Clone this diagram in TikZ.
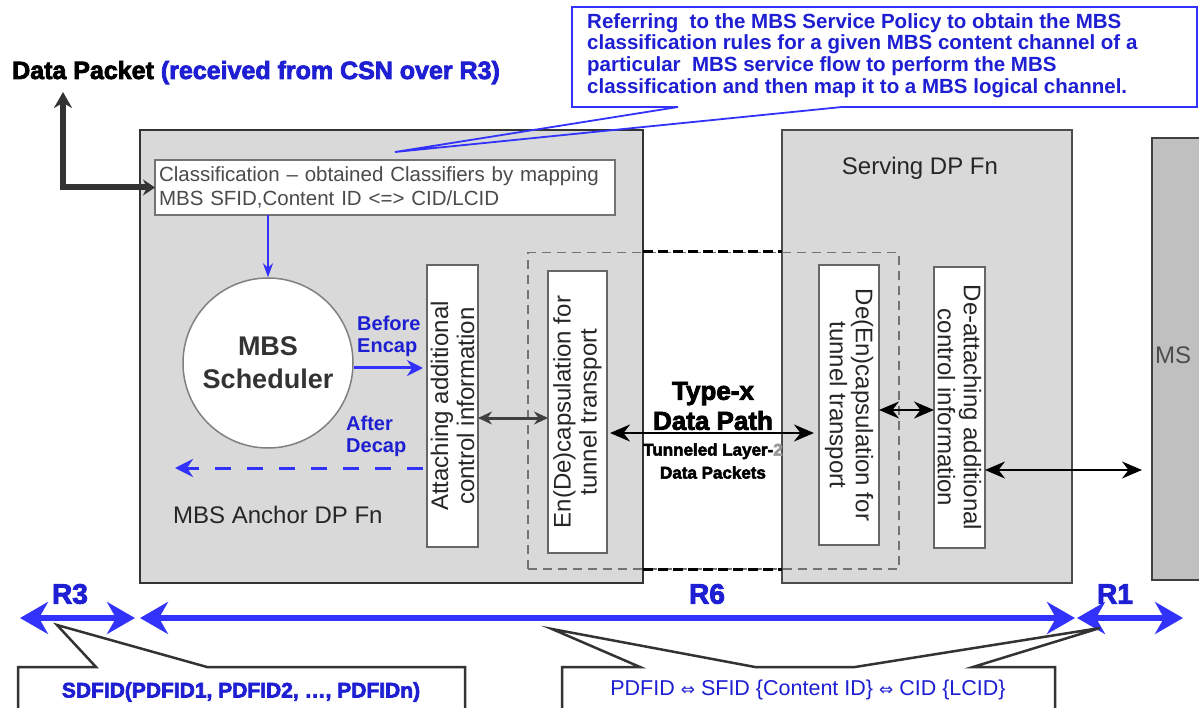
\documentclass[tikz,border=0pt]{standalone}
\usepackage{fontspec}
\setmainfont{Liberation Sans}
\newfontface\heavy{Liberation Sans Bold}[FakeBold=3]
\newfontface\dvs{DejaVu Sans}
\usetikzlibrary{arrows.meta}
\definecolor{rblue}{RGB}{50,50,250}
\definecolor{tblue}{RGB}{30,30,210}
\definecolor{boxgray}{RGB}{217,217,217}
\definecolor{msgray}{RGB}{192,192,192}
\definecolor{txtgray}{RGB}{75,75,75}
\tikzset{
  fnbox/.style={draw=black!80, line width=2.2pt, fill=boxgray, inner sep=0pt, outer sep=0pt, anchor=north west},
  inbox/.style={draw=black!60, line width=1.3pt, fill=white, inner sep=0pt, outer sep=0pt},
  vbox/.style={inbox, font=\fontsize{24}{26}\selectfont, align=center, text=black!85},
  dbl/.style={line width=3pt, black!75, {Stealth[length=14pt,width=13pt]}-{Stealth[length=14pt,width=13pt]}},
  bigdbl/.style={line width=2pt, black, {Stealth[length=20pt,width=17pt]}-{Stealth[length=20pt,width=17pt]}},
  rarrow/.style={line width=6pt, rblue, {Stealth[length=28pt,width=32pt,inset=9pt]}-{Stealth[length=28pt,width=32pt,inset=9pt]}},
  rlabel/.style={font=\heavy\fontsize{28}{28}\selectfont, text=tblue, inner sep=0pt},
  callout/.style={draw=black!80, line width=2.5pt, fill=white, line join=miter},
  bluelbl/.style={font=\bfseries\fontsize{20}{22}\selectfont, text=tblue, align=left, anchor=west, inner sep=0pt},
}
\begin{document}
\begin{tikzpicture}[x=1pt,y=-1pt]
\useasboundingbox (0,0) rectangle (1199,708);

% function boxes
\node[fnbox, minimum width=503, minimum height=453] (anchorfn) at (140,130) {};
\node[fnbox, draw=black!70, line width=2pt, minimum width=290, minimum height=453] (serving) at (782,130) {};
\node[fnbox, fill=msgray, draw=black!75, line width=2pt, minimum width=70, minimum height=442] (ms) at (1152,138) {};
\node[anchor=west, font=\fontsize{24}{24}\selectfont, text=black!70, inner sep=0pt] (mslabel) at (1155,355) {MS};
\node[font=\fontsize{24}{24}\selectfont, text=black!85, inner sep=0pt] (servlabel) at (920,168) {Serving DP Fn};
\node[anchor=west, font=\fontsize{24}{24}\selectfont, text=black!85, inner sep=0pt] (anchorlabel) at (173,515) {MBS Anchor DP Fn};

% tunnel region
\node[draw=black!55, line width=1.5pt, dash pattern=on 9pt off 6pt, minimum width=371, minimum height=316, anchor=north west, inner sep=0pt] (tunnel) at (527,252) {};
\draw[black, line width=3pt, dash pattern=on 10pt off 5pt] (anchorfn.east |- tunnel.north) -- (serving.west |- tunnel.north);
\draw[black, line width=3pt, dash pattern=on 10pt off 5pt] (anchorfn.east |- tunnel.south) -- (serving.west |- tunnel.south);

% classification
\node[inbox, draw=black!55, anchor=north west, minimum width=460, minimum height=55, text width=452, inner xsep=4pt, align=left, font=\fontsize{20.5}{24}\selectfont, text=txtgray] (class) at (155,160) {\mbox{Classification – obtained Classifiers by mapping}\\MBS SFID,Content ID <=> CID/LCID};

% scheduler
\node[circle, draw=black!50, line width=1.5pt, fill=white, minimum size=170, inner sep=0pt, align=center, font=\bfseries\fontsize{27}{33}\selectfont, text=black!80] (sched) at (268,363) {MBS\\Scheduler};

% vertical boxes
\node[vbox, rotate=90, minimum width=282, minimum height=51] (attach) at (452.5,406) {Attaching additional\\control information};
\node[vbox, rotate=90, minimum width=282, minimum height=59] (encap) at (577.5,412) {En(De)capsulation for\\tunnel transport};
\node[vbox, rotate=-90, minimum width=280, minimum height=60] (decap) at (849,405) {De(En)capsulation for\\tunnel transport};
\node[vbox, rotate=-90, minimum width=281, minimum height=51] (detach) at (959.5,407.5) {De-attaching additional\\control information};

% helper rows
\coordinate (yA) at (0,418);
\coordinate (yT) at (0,433);
\coordinate (yS) at (0,410);
\coordinate (yM) at (0,470);
\coordinate (yB) at (0,368);
\coordinate (yD) at (0,468);
\coordinate (dashend) at (175,468);

% black connectors
\draw[dbl] (attach.south |- yA) -- (encap.north |- yA);
\draw[bigdbl, line width=2.5pt] ([xshift=3pt]encap.south |- yT) -- ([xshift=-5pt]decap.south |- yT);
\draw[bigdbl, line width=1.5pt] (decap.north |- yS) -- (detach.south |- yS);
\draw[bigdbl, line width=1.5pt, shorten >=10pt] (detach.north |- yM) -- (ms.west |- yM);

% tunnel labels
\node[align=center, font=\heavy\fontsize{26}{30}\selectfont, inner sep=0pt] (typex) at (713,406) {Type-x\\Data Path};
\node[align=center, font=\heavy\fontsize{17}{23}\selectfont, inner sep=0pt] (tunneled) at (713,461) {Tunneled Layer-{\color{black!40}2}\\Data Packets};

% blue connectors
\draw[line width=2pt, rblue, -{Stealth[length=14pt,width=10pt]}] (sched.north |- class.south) -- (sched.north);
\draw[line width=3pt, rblue, shorten >=4pt, -{Stealth[length=16pt,width=16pt]}] (sched.east |- yB) -- (attach.north |- yB);
\draw[line width=3pt, rblue, dash pattern=on 16pt off 16pt, shorten <=4pt, -{Stealth[length=18pt,width=18pt]}] (attach.north |- yD) -- (dashend);
\node[bluelbl] (before) at (357,336) {Before\\Encap};
\node[bluelbl] (after) at (346,436) {After\\Decap};

% data packet
\node[anchor=base west, inner sep=0pt, font=\heavy\fontsize{25}{25}\selectfont] (dp) at (12,79) {Data Packet {\color{tblue}(received from CSN over R3)}};
\coordinate (dptip) at (63,92);
\draw[line width=6pt, black!80, {Stealth[length=12pt,width=16pt]}-{Stealth[length=16pt,width=18pt]}] (class.west) -| (dptip);

% top callout
\fill[white] (572,7) rectangle (1197,107);
\draw[rblue, line width=1.8pt, line join=miter] (678,107) -- (572,107) -- (572,7) -- (1197,7) -- (1197,107) -- (842,107) -- (395,152) -- cycle;
\node[anchor=north west, inner sep=0pt, align=left, text=tblue, font=\bfseries\fontsize{20.5}{21.8}\selectfont] (policy) at (587,13) {Referring\ \ to the MBS Service Policy to obtain the MBS\\classification rules for a given MBS content channel of a\\particular\ \ MBS service flow to perform the MBS\\classification and then map it to a MBS logical channel.};

% reference points
\coordinate (r3a) at (20,618);
\coordinate (r3b) at (135,618);
\coordinate (r6a) at (140,618);
\coordinate (r6b) at (1075,618);
\coordinate (r1a) at (1077,618);
\coordinate (r1b) at (1183,618);
\draw[rarrow] (r3a) -- (r3b);
\draw[rarrow] (r6a) -- (r6b);
\draw[rarrow] (r1a) -- (r1b);
\node[rlabel] (r3) at (70,594) {R3};
\node[rlabel] (r6) at (707,594) {R6};
\node[rlabel] (r1) at (1115,594) {R1};

% bottom callouts
\draw[callout] (18,667) -- (96,667) -- (57,625) -- (207,667) -- (465,667) -- (465,720) -- (18,720) -- cycle;
\node[font=\heavy\fontsize{21}{21}\selectfont, text=tblue, inner sep=0pt] (sdfid) at (241,692) {SDFID(PDFID1, PDFID2, …, PDFIDn)};
\draw[callout] (562,667) -- (640,667) -- (552,629) -- (755,667) -- (855,667) -- (1100,628) -- (973,667) -- (1055,667) -- (1055,720) -- (562,720) -- cycle;
\node[font=\fontsize{21.5}{22}\selectfont, text=tblue, inner sep=0pt] (pdfid) at (808,690) {PDFID {\dvs\fontsize{17}{17}\selectfont ⇔} SFID \{Content ID\} {\dvs\fontsize{17}{17}\selectfont ⇔} CID \{LCID\}};
\end{tikzpicture}
\end{document}
